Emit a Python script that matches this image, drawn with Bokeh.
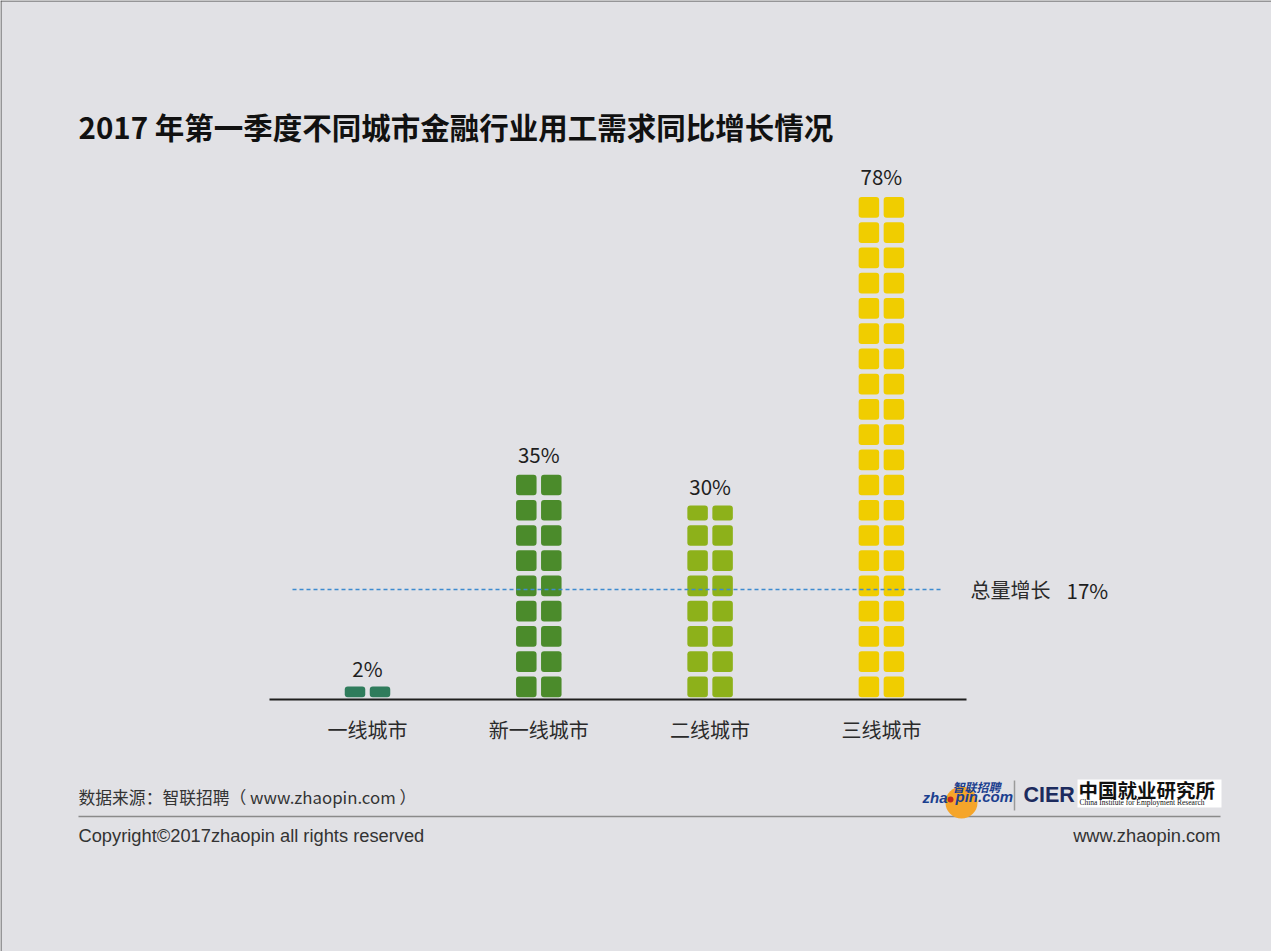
import math
from bokeh.plotting import figure
from bokeh.models import Range1d, ColumnDataSource
from bokeh.core.properties import value
from bokeh.embed import file_html
from bokeh.resources import INLINE

# ---------------- data ----------------
categories = ["一线城市", "新一线城市", "二线城市", "三线城市"]
growth = [2, 35, 30, 78]
value_labels = ["2%", "35%", "30%", "78%"]
bar_colors = ["#2f7c5c", "#4b8b2b", "#8db11a", "#f0cd00"]
total_growth = 17
total_name = "总量增长"
total_label = "17%"
title_text = "2017 年第一季度不同城市金融行业用工需求同比增长情况"
source_text = "数据来源：智联招聘（ www.zhaopin.com ）"
copyright_text = "Copyright©2017zhaopin all rights reserved"
site_text = "www.zhaopin.com"

# ---------------- layout ----------------
W, H = 1271, 951
BG = "#e1e1e5"
X0_PX, X_STEP_PX = 367.0, 171.3      # pixel of first category, pixel per category
Y0_PX, Y_PX_PER = 699.0, 6.47        # pixel of 0 %, pixel per percent

def fx(px):
    return (px - X0_PX) / X_STEP_PX

def fy(py):
    return (Y0_PX - py) / Y_PX_PER

CJK = value("Noto Sans CJK SC")
LAT = value("Liberation Sans")

p = figure(width=W, height=H,
           x_range=Range1d(fx(0), fx(W)), y_range=Range1d(fy(H), fy(0)),
           x_axis_type=None, y_axis_type=None,
           output_backend="svg", toolbar_location=None,
           min_border=0, min_border_left=0, min_border_right=0,
           min_border_top=0, min_border_bottom=0,
           background_fill_color=BG, border_fill_color=BG,
           outline_line_color=None)
p.grid.visible = False

# thin dark edge on top and left (as in the reference scan)
p.segment(x0=[fx(0.5), fx(0)], y0=[fy(0), fy(0.5)], x1=[fx(0.5), fx(W)],
          y1=[fy(H), fy(0.5)], line_color="#4a4a4a", line_width=1)

# ---------------- square-tiled bars ----------------
pitch = 3.9     # percent per row of tiles
gap = 0.7       # vertical gap between tiles (percent)
col_off = 12.5 / X_STEP_PX
col_w = 20.5 / X_STEP_PX

xs, bots, tops, fills = [], [], [], []
for i, v in enumerate(growth):
    n = math.ceil(v / pitch)
    for r in range(n):
        b = r * pitch + gap / 2
        if b >= v:
            break
        t = min((r + 1) * pitch - gap / 2, v)
        for s in (-1, 1):
            xs.append(i + s * col_off)
            bots.append(b)
            tops.append(t)
            fills.append(bar_colors[i])

src = ColumnDataSource(dict(x=xs, bottom=bots, top=tops, color=fills))
p.vbar(x="x", bottom="bottom", top="top", width=col_w, source=src,
       fill_color="color", line_color=None, border_radius=3)

# value labels
idx = list(range(len(categories)))
p.text(x=idx, y=growth, text=value_labels, text_align="center",
       text_baseline="middle", y_offset=-19, text_font=CJK,
       text_font_size="20.5px", text_color="#1e1e1e")

# category labels
p.text(x=idx, y=[fy(729)] * len(idx), text=categories, text_align="center",
       text_baseline="middle", text_font=CJK, text_font_size="20px",
       text_color="#2a2a2a")

# baseline
p.segment(x0=[fx(269)], y0=[0], x1=[fx(966)], y1=[0], line_color="#1e1e1e",
          line_width=2)

# total growth dashed line
p.segment(x0=[fx(292)], y0=[total_growth], x1=[fx(940)], y1=[total_growth],
          line_color="#3d8bd0", line_width=1.5, line_dash="4 3")
p.text(x=[fx(970)], y=[total_growth], text=[total_name], text_align="left",
       text_baseline="middle", text_font=CJK, text_font_size="20px",
       text_color="#2a2a2a")
p.text(x=[fx(1066)], y=[total_growth], text=[total_label], text_align="left",
       text_baseline="middle", text_font=CJK, text_font_size="20.5px",
       text_color="#1e1e1e")

# title
p.text(x=[fx(78)], y=[fy(125)], text=[title_text], text_align="left",
       text_baseline="middle", text_font=CJK, text_font_style="bold",
       text_font_size="29.5px", text_color="#111111")

# ---------------- footer ----------------
p.text(x=[fx(78)], y=[fy(796)], text=[source_text], text_align="left",
       text_baseline="middle", text_font=CJK, text_font_size="16.8px",
       text_color="#333333")
p.segment(x0=[fx(78)], y0=[fy(816)], x1=[fx(1220)], y1=[fy(816)],
          line_color="#8a8a8a", line_width=1.5)
p.text(x=[fx(78)], y=[fy(835)], text=[copyright_text], text_align="left",
       text_baseline="middle", text_font=LAT, text_font_size="18.3px",
       text_color="#333333")
p.text(x=[fx(1220)], y=[fy(835)], text=[site_text], text_align="right",
       text_baseline="middle", text_font=LAT, text_font_size="18.3px",
       text_color="#333333")

# zhaopin logo
p.scatter(x=[fx(961)], y=[fy(802)], size=32, marker="circle",
          fill_color="#f5a52a", line_color=None)
p.scatter(x=[fx(950)], y=[fy(799)], size=6, marker="circle",
          fill_color="#c0261e", line_color=None)
p.text(x=[fx(947)], y=[fy(797)], text=["zha"], text_align="right",
       text_baseline="middle", text_font=LAT, text_font_style="bold italic",
       text_font_size="15px", text_color="#1b3f8f")
p.text(x=[fx(955)], y=[fy(796)], text=["pin.com"], text_align="left",
       text_baseline="middle", text_font=LAT, text_font_style="bold italic",
       text_font_size="15px", text_color="#1b3f8f")
p.text(x=[fx(952)], y=[fy(786)], text=["智联招聘"], text_align="left",
       text_baseline="middle", text_font=CJK, text_font_style="bold italic",
       text_font_size="12px", text_color="#1b3f8f")
p.segment(x0=[fx(1014)], y0=[fy(780)], x1=[fx(1014)], y1=[fy(810)],
          line_color="#9a9a9a", line_width=1.5)

# CIER logo
p.text(x=[fx(1023)], y=[fy(794)], text=["CIER"], text_align="left",
       text_baseline="middle", text_font=LAT,
       text_font_style="bold", text_font_size="21.5px", text_color="#1c2b5e")
p.quad(left=[fx(1077)], right=[fx(1221)], top=[fy(779)], bottom=[fy(807)],
       fill_color="white", line_color=None)
p.text(x=[fx(1078)], y=[fy(789)], text=["中国就业研究所"], text_align="left",
       text_baseline="middle", text_font=CJK, text_font_style="bold",
       text_font_size="19.5px", text_color="#111111")
p.text(x=[fx(1079)], y=[fy(802)], text=["China Institute for Employment Research"],
       text_align="left", text_baseline="middle", text_font=value("Liberation Serif"),
       text_font_size="7.5px", text_color="#111111")

open("out.html", "w").write(file_html(p, INLINE))
